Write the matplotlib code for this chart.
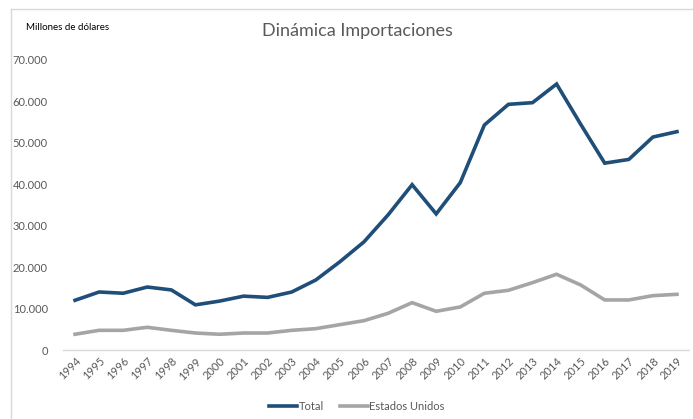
import matplotlib
matplotlib.use("Agg")
import matplotlib.pyplot as plt
from matplotlib.ticker import FuncFormatter
from matplotlib.lines import Line2D

years = [str(y) for y in range(1994, 2020)]
total = [12000, 14000, 13700, 15200, 14500, 10900, 11800, 13000, 12700, 14000,
         16900, 21300, 26100, 32600, 39900, 32850, 40400, 54300, 59300, 59700,
         64200, 54500, 45100, 46000, 51400, 52700]
usa = [3800, 4750, 4750, 5480, 4750, 4100, 3800, 4100, 4100, 4750,
       5150, 6120, 7080, 8850, 11430, 9340, 10390, 13690, 14410, 16260,
       18280, 15700, 12080, 12080, 13120, 13440]
yticks = [0, 10000, 20000, 30000, 40000, 50000, 60000, 70000]

plt.rcParams['font.family'] = ['Lato', 'DejaVu Sans']

W, H = 693, 419
fig = plt.figure(figsize=(W / 100, H / 100), dpi=100)

# outer chart frame (top and left edges visible)
fig.add_artist(Line2D([11 / W, 1.0], [1 - 9 / H, 1 - 9 / H], color='#d9d9d9', lw=1))
fig.add_artist(Line2D([11 / W, 11 / W], [0, 1 - 9 / H], color='#d9d9d9', lw=1))

left, right, top, bottom = 63, 689, 60, 350
ax = fig.add_axes([left / W, 1 - bottom / H, (right - left) / W, (bottom - top) / H])

x = list(range(len(years)))
ax.plot(x, total, color='#1f4e79', lw=2.6, solid_joinstyle='miter')
ax.plot(x, usa, color='#a5a5a5', lw=2.6, solid_joinstyle='miter')

ax.set_xlim(-0.5, len(years) - 0.5)
ax.set_ylim(0, 70000)
ax.set_yticks(yticks)
ax.yaxis.set_major_formatter(FuncFormatter(lambda v, p: f"{int(v):,}".replace(",", ".")))
ax.set_xticks(x)
ax.set_xticklabels(years, rotation=45, ha='right', rotation_mode='anchor')

for s in ['top', 'right', 'left']:
    ax.spines[s].set_visible(False)
ax.spines['bottom'].set_color('#d9d9d9')
ax.spines['bottom'].set_linewidth(1)
ax.tick_params(axis='both', length=0, labelsize=8, labelcolor='#595959')
ax.tick_params(axis='y', pad=11)
ax.tick_params(axis='x', pad=4)

fig.text(357 / W, 1 - 31 / H, 'Dinámica Importaciones', ha='center', va='center',
         fontsize=13, color='#595959')
fig.text(26 / W, 1 - 28 / H, 'Millones de dólares', ha='left', va='center',
         fontsize=7, color='#000000')

handles = [Line2D([], [], color='#1f4e79', lw=2.6), Line2D([], [], color='#a5a5a5', lw=2.6)]
fig.legend(handles, ['Total', 'Estados Unidos'], loc='center', bbox_to_anchor=(357 / W, 1 - 406 / H),
           ncol=2, frameon=False, fontsize=8, labelcolor='#595959', handlelength=2.5,
           handletextpad=0.1, columnspacing=1.5)

fig.savefig('out.png', dpi=100, facecolor='white')
